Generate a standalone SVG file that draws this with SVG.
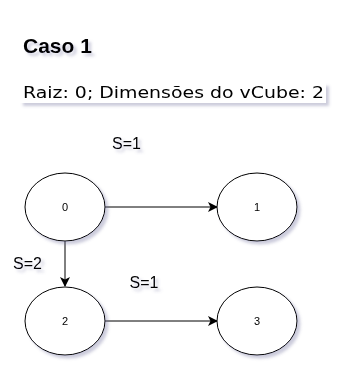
<svg xmlns="http://www.w3.org/2000/svg" width="351" height="372" viewBox="0 0 351 372">
  <defs>
    <filter id="shadow" x="-20%" y="-20%" width="150%" height="150%">
      <feGaussianBlur in="SourceAlpha" stdDeviation="1.5"/>
      <feOffset dx="3" dy="3" result="b"/>
      <feFlood flood-color="#6b6b99" flood-opacity="0.35"/>
      <feComposite in2="b" operator="in"/>
      <feMerge><feMergeNode/><feMergeNode in="SourceGraphic"/></feMerge>
    </filter>
    <marker id="arrow" viewBox="0 0 10 10" refX="9" refY="5" markerWidth="10" markerHeight="10" markerUnits="userSpaceOnUse" orient="auto">
      <path d="M0,0 L10,5 L0,10 L2.5,5 Z" fill="#000"/>
    </marker>
  </defs>
  <style>
    .node ellipse { fill: #fff; stroke: #000; stroke-width: 1; }
    .node text { font-family: "Liberation Sans", Arial, sans-serif; font-size: 11px; text-anchor: middle; fill: #000; }
    .edge { fill: none; stroke: #000; stroke-width: 1; marker-end: url(#arrow); }
    .lbl { font-family: "Liberation Sans", Arial, sans-serif; font-size: 16px; text-anchor: middle; fill: #000; }
  </style>
  <rect width="351" height="372" fill="#fff"/>

  <g id="title" filter="url(#shadow)">
    <text x="23" y="53" font-family="Liberation Sans, Arial, sans-serif" font-weight="bold" font-size="21" fill="#000">Caso 1</text>
  </g>
  <g id="info" filter="url(#shadow)">
    <rect x="20" y="83" width="306" height="20" fill="#fff"/>
    <text x="23" y="98" font-family="DejaVu Sans, Verdana, sans-serif" font-size="15" textLength="301" lengthAdjust="spacingAndGlyphs" fill="#000">Raiz: 0; Dimensões do vCube: 2</text>
  </g>

  <g id="connectors">
    <line class="edge" x1="105" y1="207" x2="217" y2="207"/>
    <line class="edge" x1="65" y1="241" x2="65" y2="286"/>
    <line class="edge" x1="105" y1="321" x2="217" y2="321"/>
    <g filter="url(#shadow)">
      <text class="lbl" x="126.5" y="149">S=1</text>
      <text class="lbl" x="27.5" y="269">S=2</text>
      <text class="lbl" x="144" y="288">S=1</text>
    </g>
  </g>

  <g id="node0" class="node" filter="url(#shadow)">
    <ellipse cx="65" cy="207" rx="40" ry="34"/>
    <text x="65" y="211">0</text>
  </g>
  <g id="node1" class="node" filter="url(#shadow)">
    <ellipse cx="257" cy="207" rx="40" ry="34"/>
    <text x="257" y="211">1</text>
  </g>
  <g id="node2" class="node" filter="url(#shadow)">
    <ellipse cx="65" cy="321" rx="40" ry="34"/>
    <text x="65" y="325">2</text>
  </g>
  <g id="node3" class="node" filter="url(#shadow)">
    <ellipse cx="257" cy="321" rx="40" ry="34"/>
    <text x="257" y="325">3</text>
  </g>
</svg>
